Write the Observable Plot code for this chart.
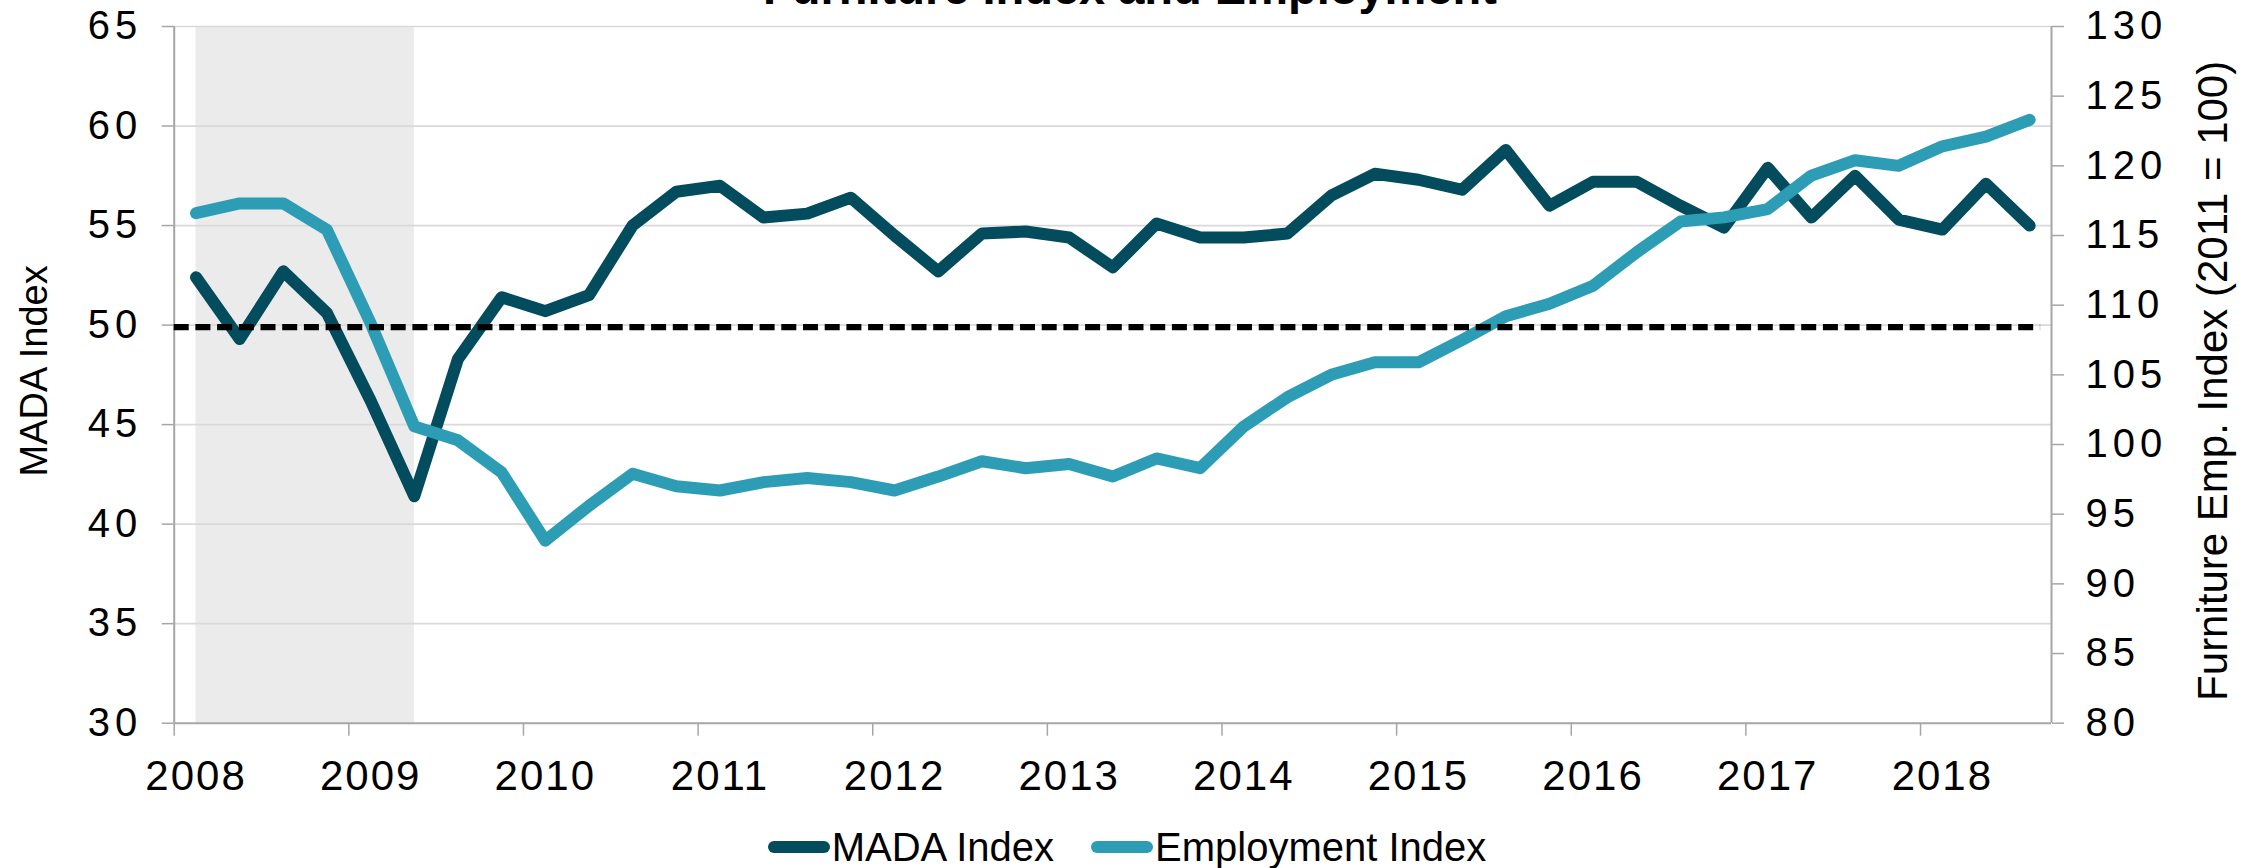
<!DOCTYPE html>
<html>
<head>
<meta charset="utf-8">
<script src="https://cdn.jsdelivr.net/npm/d3@7"></script>
<script src="https://cdn.jsdelivr.net/npm/@observablehq/plot@0.6"></script>
<style>
  html, body { margin: 0; padding: 0; background: #fff; overflow: hidden; }
  #wrap { position: relative; width: 2260px; height: 868px; font-family: "Liberation Sans", Arial, sans-serif; }
  #title { position: absolute; top: -36px; left: 0; width: 2260px; text-align: center; font-weight: bold; font-size: 47px; line-height: 47px; color: #000; z-index: 2; }
  #chart { position: absolute; top: 0; left: 0; }
  #legend { position: absolute; top: 800px; left: 0; width: 2260px; height: 68px; box-sizing: border-box; padding-top: 26.7px; padding-right: 6px;
            display: flex; justify-content: center; align-items: flex-start; gap: 37px; font-size: 40px; line-height: 40px; color: #000; }
  .item { display: flex; align-items: center; height: 40px; }
  .sw { width: 62px; height: 12px; border-radius: 6px; margin-right: 2px; }
  svg text { font-family: "Liberation Sans", Arial, sans-serif; }
  g[aria-label="y-axis tick label"] text { letter-spacing: 5px; }
  g[aria-label="x-axis tick label"] text { letter-spacing: 2px; }
</style>
</head>
<body>
<div id="wrap">
  <div id="title"></div>
  <div id="chart"></div>
  <div id="legend"></div>
</div>
<script>
const titleText = "Furniture Index and Employment";
const leftTitle = "MADA Index";
const rightTitle = "Furniture Emp. Index (2011 = 100)";

const quarters = [
  "2008 Q1","2008 Q2","2008 Q3","2008 Q4",
  "2009 Q1","2009 Q2","2009 Q3","2009 Q4",
  "2010 Q1","2010 Q2","2010 Q3","2010 Q4",
  "2011 Q1","2011 Q2","2011 Q3","2011 Q4",
  "2012 Q1","2012 Q2","2012 Q3","2012 Q4",
  "2013 Q1","2013 Q2","2013 Q3","2013 Q4",
  "2014 Q1","2014 Q2","2014 Q3","2014 Q4",
  "2015 Q1","2015 Q2","2015 Q3","2015 Q4",
  "2016 Q1","2016 Q2","2016 Q3","2016 Q4",
  "2017 Q1","2017 Q2","2017 Q3","2017 Q4",
  "2018 Q1","2018 Q2","2018 Q3"
];

const mada = [
  52.4, 49.3, 52.7, 50.6,
  46.2, 41.4, 48.3, 51.4,
  50.7, 51.5, 55.0, 56.7,
  57.0, 55.4, 55.6, 56.4,
  54.5, 52.7, 54.6, 54.7,
  54.4, 52.9, 55.1, 54.4,
  54.4, 54.6, 56.5, 57.6,
  57.3, 56.8, 58.8, 56.0,
  57.2, 57.2, 56.0, 54.9,
  57.9, 55.4, 57.5, 55.3,
  54.8, 57.1, 55.0
];

const employment = [
  116.6, 117.3, 117.3, 115.4,
  108.7, 101.3, 100.3, 98.0,
  93.1, 95.6, 97.9, 97.0,
  96.7, 97.3, 97.6, 97.3,
  96.7, 97.7, 98.8, 98.3,
  98.6, 97.7, 99.0, 98.3,
  101.3, 103.4, 105.0, 105.9,
  105.9, 107.5, 109.2, 110.1,
  111.4, 113.8, 116.0, 116.3,
  116.9, 119.3, 120.4, 120.0,
  121.4, 122.1, 123.3
];

const yearLabels = ["2008","2009","2010","2011","2012","2013","2014","2015","2016","2017","2018"];
const leftTicks = [30, 35, 40, 45, 50, 55, 60, 65];
const rightTicks = [80, 85, 90, 95, 100, 105, 110, 115, 120, 125, 130];
const threshold = [49.9];
const recession = [{start: "2008 Q1", end: "2009 Q2"}];

const seriesNames = ["MADA Index", "Employment Index"];
const seriesColors = ["#034c5e", "#2d9db6"];

// secondary axis mapping (80..130 onto 30..65)
const leftDomain = [30, 65];
const rightDomain = [80, 130];
const toLeft = e => leftDomain[0] + (e - rightDomain[0]) * (leftDomain[1] - leftDomain[0]) / (rightDomain[1] - rightDomain[0]);
const fromLeft = v => rightDomain[0] + (v - leftDomain[0]) * (rightDomain[1] - rightDomain[0]) / (leftDomain[1] - leftDomain[0]);

const madaData = quarters.map((q, i) => ({i, q, v: mada[i]}));
const empData = quarters.map((q, i) => ({i, q, v: toLeft(employment[i])}));
const yearPos = yearLabels.map(y => quarters.indexOf(y + " Q1"));
const yearBounds = yearPos.map(p => p - 0.5);
const recRects = recession.map(r => ({x1: quarters.indexOf(r.start), x2: quarters.indexOf(r.end)}));
const lastX = quarters.length - 0.5;

const gray = "#a6a6a6";

const chart = Plot.plot({
  width: 2260,
  height: 800,
  marginTop: 26,
  marginBottom: 77.3,
  marginLeft: 173.7,
  marginRight: 209,
  x: {type: "linear", domain: [-0.5, lastX]},
  y: {domain: leftDomain},
  style: {fontFamily: "'Liberation Sans', Arial, sans-serif", background: "transparent", color: "#000"},
  marks: [
    Plot.rect(recRects, {x1: "x1", x2: "x2", y1: () => leftDomain[0], y2: () => leftDomain[1], fill: "#ebebeb"}),
    Plot.gridY(leftTicks.slice(1), {stroke: "#d9d9d9", strokeOpacity: 1, strokeWidth: 1.7}),
    Plot.ruleX([-0.5, lastX], {stroke: gray, strokeWidth: 2}),
    Plot.ruleY([leftDomain[0]], {stroke: gray, strokeWidth: 2}),
    Plot.axisY(leftTicks, {anchor: "left", tickSize: 12, tickPadding: 20, fontSize: 40, stroke: gray, strokeWidth: 1.5, fill: "#000", label: null, tickFormat: d => String(d)}),
    Plot.axisY(rightTicks.map(toLeft), {anchor: "right", tickSize: 12, tickPadding: 22, fontSize: 40, stroke: gray, strokeWidth: 1.5, fill: "#000", label: null, tickFormat: v => String(Math.round(fromLeft(v)))}),
    Plot.axisX(yearBounds, {anchor: "bottom", tickSize: 13, stroke: gray, strokeWidth: 1.5, label: null, tickFormat: () => ""}),
    Plot.axisX(yearPos, {anchor: "bottom", tickSize: 0, tickPadding: 36.6, fontSize: 42, fill: "#000", label: null, tickFormat: p => yearLabels[yearPos.indexOf(p)]}),
    Plot.line(madaData, {x: "i", y: "v", stroke: seriesColors[0], strokeWidth: 12, strokeLinejoin: "round", strokeLinecap: "round"}),
    Plot.line(empData, {x: "i", y: "v", stroke: seriesColors[1], strokeWidth: 12, strokeLinejoin: "round", strokeLinecap: "round"}),
    Plot.ruleY(threshold.map(t => ({y: t, x1: -0.5, x2: lastX - 0.25})), {y: "y", x1: "x1", x2: "x2", stroke: "#000", strokeWidth: 6.3, strokeDasharray: "15,6.7"}),
    Plot.text([leftTitle], {text: d => d, frameAnchor: "left", rotate: -90, dx: -139, dy: -4, fontSize: 38, fill: "#000", textAnchor: "middle", lineAnchor: "middle"}),
    Plot.text([rightTitle], {text: d => d, frameAnchor: "right", rotate: -90, dx: 162, dy: 6, fontSize: 42, fill: "#000", textAnchor: "middle", lineAnchor: "middle"})
  ]
});
document.getElementById("chart").appendChild(chart);
document.getElementById("title").textContent = titleText;

const legend = document.getElementById("legend");
seriesNames.forEach((name, k) => {
  const item = document.createElement("div");
  item.className = "item";
  const sw = document.createElement("div");
  sw.className = "sw";
  sw.style.background = seriesColors[k];
  const label = document.createElement("span");
  label.textContent = name;
  item.appendChild(sw);
  item.appendChild(label);
  legend.appendChild(item);
});
</script>
</body>
</html>
